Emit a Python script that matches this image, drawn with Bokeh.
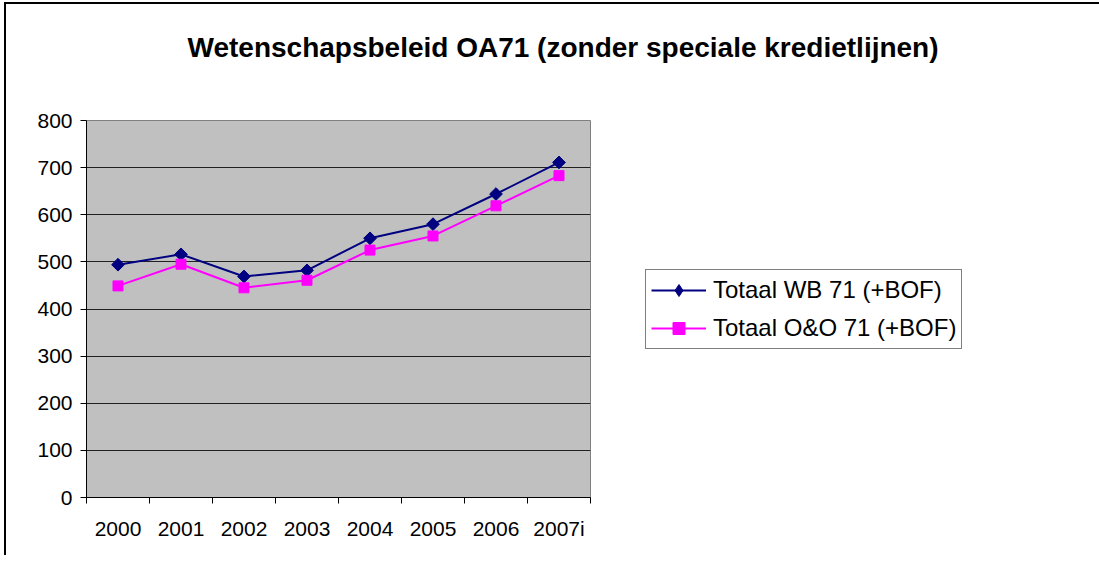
from bokeh.plotting import figure
from bokeh.models import FixedTicker, Legend, LegendItem, Range1d, Title
from bokeh.embed import file_html
from bokeh.resources import INLINE
import numpy as np

years = ["2000", "2001", "2002", "2003", "2004", "2005", "2006", "2007i"]
wb71 = [494, 516, 469, 482, 550, 580, 644, 711]
oo71 = [449, 495, 445, 461, 525, 555, 619, 683]
y_ticks = [0, 100, 200, 300, 400, 500, 600, 700, 800]

title_text = "Wetenschapsbeleid OA71 (zonder speciale kredietlijnen)"
name_wb = "Totaal WB 71 (+BOF)"
name_oo = "Totaal O&O 71 (+BOF)"

FONT = "Liberation Sans"
xs = [i + 0.5 for i in range(len(years))]

p = figure(frame_width=504, frame_height=377, output_backend="svg", toolbar_location=None,
           x_range=Range1d(0, len(years)), y_range=Range1d(0, 800),
           min_border_left=80, min_border_top=116, min_border_right=138, min_border_bottom=58)
p.title = None
p.styles = {"margin-left": "4px", "margin-top": "2px",
            "border-left": "2px solid black", "border-top": "2px solid black"}

p.background_fill_color = "#C0C0C0"
p.border_fill_color = "white"
p.outline_line_color = "#808080"
p.outline_line_width = 1

# spacer between title and plot area, then the title itself
spacer = Title(text=" ", text_font_size="1px", standoff=55)
main_title = Title(text=title_text, text_font=FONT, text_font_size="28px",
                   text_font_style="bold", text_color="black",
                   align="left", offset=101, standoff=0)
p.add_layout(spacer, "above")
p.add_layout(main_title, "above")

# x axis
p.xaxis.ticker = FixedTicker(ticks=xs, minor_ticks=list(range(len(years) + 1)))
p.xaxis.major_label_overrides = {x: y for x, y in zip(xs, years)}
p.xaxis.major_tick_line_color = None
p.xaxis.minor_tick_line_color = "black"
p.xaxis.minor_tick_out = 6
p.xaxis.minor_tick_in = 0
p.xaxis.axis_line_color = "black"
p.xaxis.major_label_standoff = 13
p.xaxis.major_label_text_font = FONT
p.xaxis.major_label_text_font_size = "21px"
p.xaxis.major_label_text_color = "black"

# y axis
p.yaxis.ticker = FixedTicker(ticks=y_ticks)
p.yaxis.major_tick_out = 6
p.yaxis.major_tick_in = 0
p.yaxis.minor_tick_line_color = None
p.yaxis.axis_line_color = "black"
p.yaxis.major_label_standoff = 8
p.yaxis.major_label_text_font = FONT
p.yaxis.major_label_text_font_size = "21px"
p.yaxis.major_label_text_color = "black"

p.xgrid.grid_line_color = None
p.ygrid.grid_line_color = "#202020"
p.ygrid.grid_line_width = 1
p.ygrid.ticker = FixedTicker(ticks=y_ticks)

l1 = p.line(xs, wb71, line_color="#000080", line_width=2)
m1 = p.scatter(xs, wb71, marker="square", angle=np.pi / 4, size=9,
               fill_color="#000080", line_color="#000080")
l2 = p.line(xs, oo71, line_color="#FF00FF", line_width=2)
m2 = p.scatter(xs, oo71, marker="square", size=10,
               fill_color="#FF00FF", line_color="#FF00FF")
# legend-only glyph (a NaN placeholder, draws nothing in the plot) so the legend shows a diamond
leg_d = p.scatter(x=[np.nan], y=[np.nan], marker="diamond", size=14,
                  fill_color="#000080", line_color="#000080")

legend = Legend(items=[LegendItem(label=name_wb, renderers=[l1, leg_d]),
                       LegendItem(label=name_oo, renderers=[l2, m2])],
                location="left")
legend.label_text_font = FONT
legend.label_text_font_size = "24px"
legend.label_text_color = "black"
legend.glyph_width = 55
legend.glyph_height = 30
legend.label_height = 30
legend.label_standoff = 7
legend.spacing = 8
legend.padding = 5
legend.margin = 55
legend.border_line_color = "black"
legend.border_line_width = 1
legend.background_fill_color = "white"
legend.background_fill_alpha = 1
p.add_layout(legend, "right")

open("out.html", "w").write(file_html(p, INLINE))
